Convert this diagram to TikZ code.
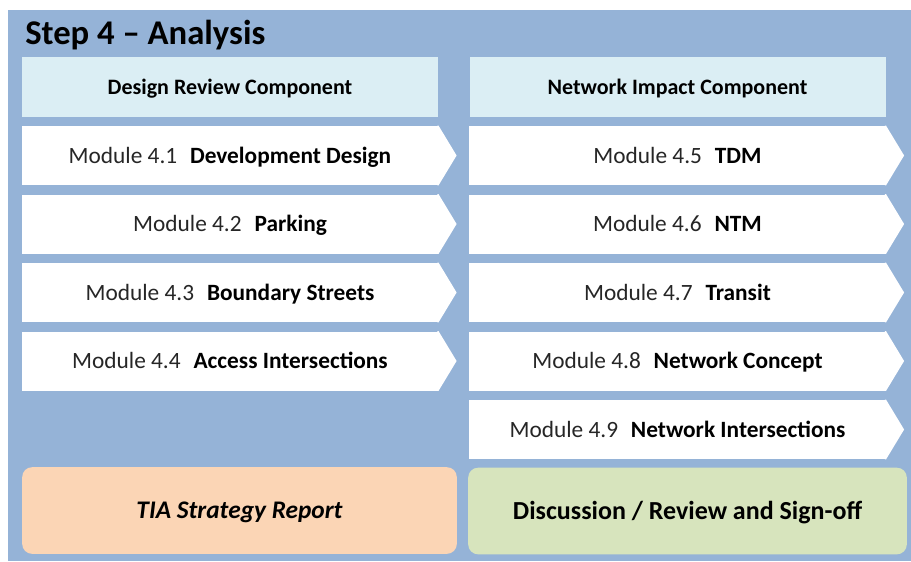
\documentclass[tikz,border=0pt]{standalone}
\usepackage{fontspec}
\setmainfont{Carlito}
\usepackage{xcolor}
\usetikzlibrary{positioning}
\definecolor{bgblue}{HTML}{95B3D7}
\definecolor{hdrblue}{HTML}{DBEEF4}
\definecolor{peach}{HTML}{FBD5B5}
\definecolor{sage}{HTML}{D7E4BD}
\definecolor{modgray}{HTML}{262626}

\begin{document}
\begin{tikzpicture}[x=0.75pt,y=-0.75pt,
      hdr/.style={fill=hdrblue, minimum width=312pt, minimum height=45pt,
        text height=10.6pt, text depth=0pt, font=\fontsize{16.5}{19}\selectfont\bfseries},
      modbox/.style={fill=white, minimum width=312.5pt, minimum height=44.25pt,
        text height=11.3pt, text depth=0pt, text=modgray, font=\fontsize{17.5}{20}\selectfont},
      final/.style={rounded corners=7.5pt, minimum height=65pt,
        text height=12.6pt, text depth=0pt, font=\fontsize{19.5}{22}\selectfont\bfseries}]
      \useasboundingbox (0,0) rectangle (911,561);
      \fill[bgblue] (8,10) rectangle (911,561);
      \node[anchor=base west, inner sep=0pt, font=\fontsize{26}{30}\selectfont\bfseries] (title) at (25,44) {Step 4 -- Analysis};
      % component headers
      \node[hdr] (hdrL) at (230,87) {Design Review Component};
      \node[hdr] (hdrR) at (677.5,87) {Network Impact Component};
      % design review modules
      \node[modbox] (m41) at (230,155.5) {Module 4.1\hspace{0.55em}\textbf{\color{black}Development Design}};
      \node[modbox] (m42) at (230,224) {Module 4.2\hspace{0.55em}\textbf{\color{black}Parking}};
      \node[modbox] (m43) at (230,292.5) {Module 4.3\hspace{0.55em}\textbf{\color{black}Boundary Streets}};
      \node[modbox] (m44) at (230,361) {Module 4.4\hspace{0.55em}\textbf{\color{black}Access Intersections}};
      % network impact modules
      \node[modbox] (m45) at (677.5,155.5) {Module 4.5\hspace{0.55em}\textbf{\color{black}TDM}};
      \node[modbox] (m46) at (677.5,224) {Module 4.6\hspace{0.55em}\textbf{\color{black}NTM}};
      \node[modbox] (m47) at (677.5,292.5) {Module 4.7\hspace{0.55em}\textbf{\color{black}Transit}};
      \node[modbox] (m48) at (677.5,361) {Module 4.8\hspace{0.55em}\textbf{\color{black}Network Concept}};
      \node[modbox] (m49) at (677.5,429.5) {Module 4.9\hspace{0.55em}\textbf{\color{black}Network Intersections}};
      \foreach \m in {m41,m42,m43,m44,m45,m46,m47,m48,m49}
        \fill[white] ([xshift=-1pt]\m.north east) -- (\m.north east) -- ([xshift=13.5pt]\m.east)
          -- (\m.south east) -- ([xshift=-1pt]\m.south east) -- cycle;
      % outcome boxes
      \node[final, fill=peach, minimum width=326pt, font=\fontsize{19}{22}\selectfont\bfseries\itshape] (report) at (239.5,510.5) {TIA Strategy Report};
      \node[final, fill=sage, minimum width=329pt] (signoff) at (687.5,511) {Discussion / Review and Sign-off};
\end{tikzpicture}
\end{document}
